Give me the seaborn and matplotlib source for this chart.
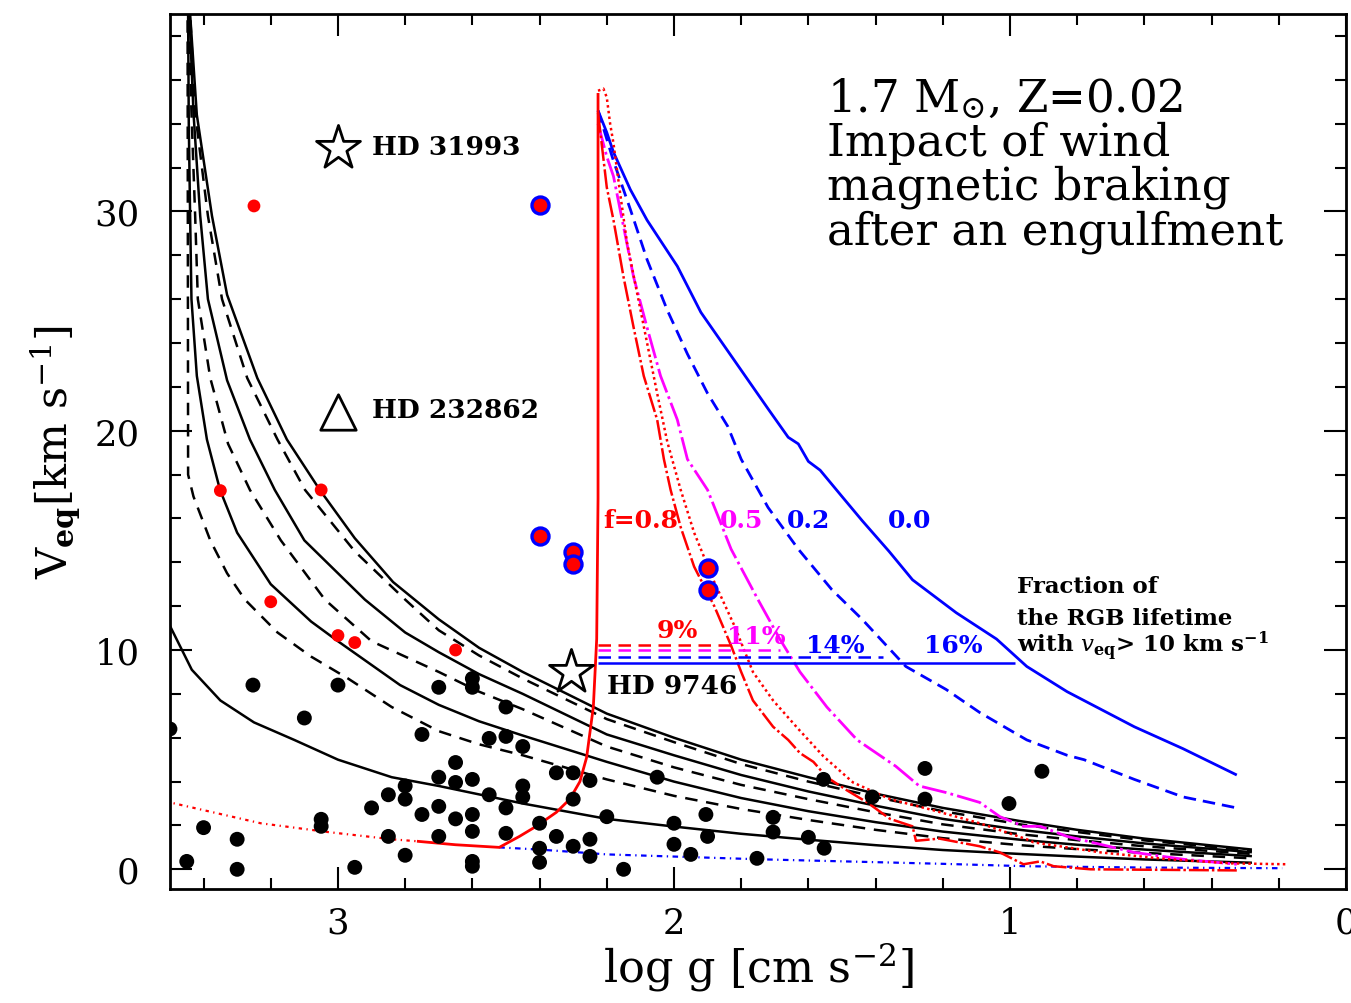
import numpy as np
import pandas as pd
import matplotlib
matplotlib.use("Agg")
import matplotlib.pyplot as plt
from matplotlib.ticker import MultipleLocator
import seaborn as sns

# ---------------- observed stars ----------------
black_logg = [3.50, 3.253, 3.10, 3.00, 2.70, 2.60, 2.60, 2.50, 2.75, 2.55, 2.50, 2.45, 2.65, 2.70,
              2.65, 2.60, 2.80, 2.85, 2.80, 2.90, 2.75, 2.70, 2.65, 2.60, 2.55, 2.45, 2.45, 2.50,
              2.35, 2.30, 2.25, 2.30, 2.20, 3.40, 3.30, 3.45, 3.30, 3.05, 3.05, 2.95, 2.85, 2.80,
              2.70, 2.60, 2.60, 2.60, 2.50, 2.40, 2.40, 2.40, 2.35, 2.30, 2.25, 2.25, 2.05, 1.555,
              1.253, 1.253, 1.003, 1.41, 1.905, 1.705, 2.00, 1.705, 1.90, 2.00, 1.60, 1.553, 1.95,
              1.753, 2.15, 0.905]
black_v = [6.4, 8.4, 6.9, 8.4, 8.3, 8.7, 8.3, 7.4, 6.15, 5.97, 6.06, 5.6, 4.87, 4.2,
           3.96, 4.1, 3.8, 3.4, 3.2, 2.8, 2.5, 2.87, 2.3, 2.5, 3.4, 3.8, 3.3, 2.8,
           4.4, 4.4, 4.05, 3.2, 2.4, 1.9, 1.37, 0.36, 0.0, 2.28, 1.96, 0.09, 1.5, 0.64,
           1.5, 1.73, 0.36, 0.14, 1.64, 2.1, 0.96, 0.32, 1.5, 1.05, 1.37, 0.59, 4.2, 4.1,
           4.6, 3.2, 3.0, 3.3, 2.5, 2.37, 2.1, 1.7, 1.5, 1.14, 1.46, 0.96, 0.68,
           0.5, 0.0, 4.47]

red_logg = [3.25, 3.35, 3.05, 3.20, 3.00, 2.95, 2.65]
red_v = [30.25, 17.27, 17.3, 12.2, 10.66, 10.34, 10.0]

ringed_logg = [2.40, 2.40, 2.30, 2.30, 1.90, 1.90]
ringed_v = [30.3, 15.2, 14.45, 13.9, 13.75, 12.75]

star_names = ["HD 31993", "HD 9746"]
star_logg = [3.00, 2.307]
star_v = [32.9, 9.0]
tri_name = "HD 232862"
tri_logg = [3.00]
tri_v = [20.85]

# ---------------- models without engulfment (black) ----------------
s6_logg = [3.45, 3.44, 3.42, 3.375, 3.33, 3.24, 3.152, 3.054, 2.95, 2.836, 2.70, 2.58, 2.45, 2.20,
           2.00, 1.80, 1.60, 1.40, 1.20, 0.97, 0.80, 0.60, 0.28]
s6_v = [45, 39.0, 34.4, 29.8, 26.2, 22.4, 19.6, 17.3, 15.1, 13.1, 11.4, 10.1, 9.0, 7.1,
        6.0, 5.0, 4.2, 3.45, 2.8, 2.2, 1.8, 1.4, 0.9]

d5_logg = [3.45, 3.44, 3.425, 3.387, 3.345, 3.27, 3.18, 3.098, 2.95, 2.80, 2.70, 2.58, 2.45, 2.20,
           2.00, 1.80, 1.60, 1.40, 1.20, 0.97, 0.80, 0.60, 0.28]
d5_v = [45, 39.0, 34.5, 29.8, 26.0, 22.4, 19.6, 17.3, 14.5, 12.3, 10.9, 9.75, 8.7, 6.85,
        5.8, 4.8, 4.0, 3.3, 2.65, 2.05, 1.7, 1.32, 0.85]

s4_logg = [3.45, 3.442, 3.43, 3.41, 3.387, 3.33, 3.262, 3.188, 3.10, 3.00, 2.92, 2.80, 2.70, 2.58,
           2.45, 2.20, 2.00, 1.80, 1.60, 1.40, 1.20, 0.97, 0.80, 0.60, 0.28]
s4_v = [45, 39.0, 34.5, 29.8, 26.0, 22.3, 19.6, 17.3, 15.0, 13.5, 12.3, 10.8, 9.9, 8.9,
        8.0, 6.15, 5.2, 4.3, 3.55, 2.9, 2.3, 1.8, 1.5, 1.18, 0.78]

d3_logg = [3.45, 3.444, 3.436, 3.425, 3.417, 3.38, 3.327, 3.262, 3.17, 3.039, 2.90, 2.70, 2.58,
           2.45, 2.20, 2.00, 1.80, 1.60, 1.40, 1.20, 0.97, 0.80, 0.60, 0.28]
d3_v = [45, 39.0, 34.5, 29.8, 26.0, 22.4, 19.4, 17.3, 15.0, 12.3, 10.4, 9.0, 8.1,
        7.3, 5.6, 4.65, 3.85, 3.2, 2.6, 2.05, 1.6, 1.33, 1.05, 0.7]

s2_logg = [3.45, 3.446, 3.444, 3.44, 3.436, 3.42, 3.39, 3.351, 3.30, 3.20, 3.08, 3.00, 2.815, 2.70,
           2.58, 2.45, 2.20, 2.00, 1.80, 1.60, 1.40, 1.20, 0.97, 0.80, 0.60, 0.28]
s2_v = [45, 39.0, 34.0, 29.8, 26.0, 22.5, 19.6, 17.3, 15.35, 13.0, 11.3, 10.4, 8.4, 7.5,
        6.75, 6.1, 4.9, 4.0, 3.25, 2.65, 2.15, 1.72, 1.35, 1.12, 0.9, 0.6]

d1_logg = [3.448, 3.446, 3.43, 3.40, 3.38, 3.33, 3.277, 3.18, 3.08, 2.97, 2.84, 2.70, 2.58, 2.45,
           2.20, 2.00, 1.80, 1.60, 1.40, 1.20, 0.97, 0.80, 0.60, 0.28]
d1_v = [45, 18.0, 17.0, 15.8, 15.0, 13.5, 12.3, 10.8, 9.7, 8.7, 7.4, 6.3, 5.7, 5.2,
        4.1, 3.35, 2.75, 2.25, 1.8, 1.42, 1.1, 0.92, 0.75, 0.5]

s0_logg = [3.55, 3.50, 3.435, 3.35, 3.25, 3.13, 3.00, 2.84, 2.70, 2.45, 2.20, 2.00, 1.80, 1.60,
           1.40, 1.20, 0.97, 0.80, 0.60, 0.28]
s0_v = [12.8, 11.1, 9.1, 7.7, 6.7, 5.9, 5.0, 4.2, 3.8, 3.0, 2.3, 1.95, 1.62, 1.35,
        1.1, 0.88, 0.7, 0.58, 0.45, 0.3]

# ---------------- engulfment tracks ----------------
pre_logg = [3.55, 3.50, 3.23, 3.03, 2.84, 2.765]
pre_v = [3.3, 3.05, 2.1, 1.7, 1.37, 1.28]

rise_logg = [2.765, 2.65, 2.52, 2.46, 2.41, 2.35, 2.31, 2.28, 2.26, 2.24, 2.23, 2.226, 2.226]
rise_v = [1.28, 1.12, 1.0, 1.5, 1.96, 2.6, 3.2, 4.0, 5.1, 7.4, 10.5, 16.9, 35.4]

nobrake_logg = [2.52, 2.40, 2.28, 2.20, 1.753, 1.20, 0.95, 0.60, 0.19]
nobrake_v = [1.0, 0.9, 0.77, 0.68, 0.46, 0.25, 0.14, 0.08, 0.05]

f00_logg = [2.226, 2.20, 2.18, 2.13, 2.08, 1.99, 1.92, 1.82, 1.72, 1.66, 1.63, 1.60, 1.565, 1.50, 1.44,
            1.36, 1.29, 1.16, 1.04, 0.95, 0.83, 0.63, 0.485, 0.325]
f00_v = [34.6, 33.6, 32.7, 31.0, 29.6, 27.5, 25.4, 23.2, 21.0, 19.7, 19.4, 18.6, 18.2, 17.0, 15.9,
         14.5, 13.2, 11.7, 10.5, 9.25, 8.1, 6.5, 5.5, 4.3]

f02_logg = [2.226, 2.18, 2.13, 2.08, 2.02, 1.96, 1.90, 1.84, 1.80, 1.72, 1.63, 1.53, 1.44, 1.31, 1.19,
            1.09, 0.95, 0.83, 0.78, 0.63, 0.485, 0.325]
f02_v = [34.6, 32.3, 30.1, 27.8, 25.5, 23.5, 21.7, 20.2, 18.7, 16.5, 14.6, 12.75, 11.4, 9.25, 8.2,
         7.15, 5.9, 5.2, 5.0, 4.1, 3.3, 2.8]

f05_logg = [2.226, 2.20, 2.18, 2.15, 2.12, 2.08, 2.04, 1.99, 1.96, 1.90, 1.83, 1.75, 1.685, 1.625, 1.545,
            1.455, 1.34, 1.27, 1.19, 1.09, 1.03, 0.96, 0.91, 0.83, 0.63, 0.485, 0.325]
f05_v = [34.0, 32.5, 31.6, 29.3, 27.0, 24.7, 22.5, 20.5, 18.7, 17.3, 14.6, 12.3, 10.5, 9.0, 7.4,
         5.9, 4.7, 3.8, 3.5, 3.05, 2.4, 1.96, 1.96, 1.5, 0.77, 0.46, 0.23]

f08_logg = [2.226, 2.20, 2.18, 2.15, 2.12, 2.09, 2.05, 2.03, 2.01, 1.98, 1.94, 1.88, 1.83, 1.80, 1.765,
            1.705, 1.66, 1.625, 1.585, 1.545, 1.485, 1.425, 1.357, 1.29, 1.28, 1.21, 1.09, 1.03, 0.96,
            0.91, 0.87, 0.76, 0.325]
f08_v = [34.5, 31.1, 29.6, 27.0, 24.7, 22.5, 20.5, 18.7, 17.3, 15.6, 13.8, 12.0, 10.2, 9.0, 7.7,
         6.5, 5.9, 5.3, 4.9, 4.2, 3.6, 3.05, 2.3, 1.96, 1.3, 1.4, 1.05, 0.77, 0.23,
         0.36, 0.14, 0.0, -0.05]

f08b_logg = [2.226, 2.21, 2.20, 2.19, 2.18, 2.16, 2.14, 2.11, 2.08, 2.05, 2.02, 1.98, 1.94, 1.88, 1.82,
             1.765, 1.705, 1.63, 1.555, 1.467, 1.357, 1.23, 1.09, 0.95, 0.93, 0.73, 0.53, 0.34, 0.175]
f08b_v = [35.5, 35.6, 35.2, 34.0, 33.1, 30.8, 28.6, 26.3, 24.0, 21.7, 19.5, 17.3, 15.35, 13.1, 11.1,
          9.0, 7.7, 6.4, 5.15, 3.96, 3.2, 2.7, 2.1, 1.37, 1.23, 0.77, 0.46, 0.27, 0.23]

# fraction of RGB lifetime with v_eq > 10 km/s
frac_labels = ["9%", "11%", "14%", "16%"]
frac_level = [10.25, 10.0, 9.7, 9.4]
frac_end = [1.824, 1.685, 1.378, 0.985]
f_labels = ["f=0.8", "0.5", "0.2", "0.0"]

RED, MAG, BLUE = "#ff0000", "#ff00ff", "#0000ff"

sns.set_style("ticks")
plt.rcParams["font.family"] = ["DejaVu Serif"]
plt.rcParams["mathtext.fontset"] = "dejavuserif"
for key in ["text.color", "axes.labelcolor", "xtick.color", "ytick.color", "axes.edgecolor"]:
    plt.rcParams[key] = "black"

fig = plt.figure(figsize=(13.51, 10.04), dpi=100)
ax = fig.add_axes([0.1258, 0.1135, 0.8705, 0.8715])


def curve(logg, v, color, lw=1.8, dashes=None, zorder=2):
    df = pd.DataFrame({"logg": logg, "v": v})
    sns.lineplot(data=df, x="logg", y="v", sort=False, estimator=None, color=color,
                 lw=lw, ax=ax, zorder=zorder, legend=False)
    ln = ax.lines[-1]
    if dashes is not None:
        ln.set_dashes(dashes)
    ln.set_solid_capstyle("butt")
    ln.set_solid_joinstyle("round")
    return ln


# black model grid
for lg, vv, ds in [(s0_logg, s0_v, None), (d1_logg, d1_v, (5, 3.5)), (s2_logg, s2_v, None),
                   (d3_logg, d3_v, (5, 3.5)), (s4_logg, s4_v, None), (d5_logg, d5_v, (5, 3.5)),
                   (s6_logg, s6_v, None)]:
    curve(lg, vv, "black", lw=1.8, dashes=ds)

# engulfment tracks
curve(pre_logg, pre_v, RED, lw=1.6, dashes=(1.5, 2.0, 0.6, 2.0))
curve(nobrake_logg, nobrake_v, BLUE, lw=1.6, dashes=(2.5, 2.0, 0.6, 2.0))
curve(f00_logg, f00_v, BLUE, lw=2.0, zorder=3)
curve(f02_logg, f02_v, BLUE, lw=2.0, dashes=(4.5, 2.5), zorder=3)
curve(f05_logg, f05_v, MAG, lw=2.0, dashes=(9, 1.5, 1, 1.5), zorder=3)
curve(f08b_logg, f08b_v, RED, lw=1.8, dashes=(1, 1.3), zorder=3)
curve(f08_logg, f08_v, RED, lw=1.8, dashes=(8, 1.2, 1, 1.2), zorder=3)
curve(rise_logg, rise_v, RED, lw=2.0, zorder=4)

# horizontal fraction markers
hcols = [RED, MAG, BLUE, BLUE]
hdash = [(5, 3), (5, 3), (5, 3), None]
for lvl, end, c, ds in zip(frac_level, frac_end, hcols, hdash):
    curve([rise_logg[-1], end], [lvl, lvl], c, lw=1.8, dashes=ds, zorder=3)

# observations
sns.scatterplot(x=black_logg, y=black_v, color="black", s=115, edgecolor="none", ax=ax, zorder=5, legend=False)
sns.scatterplot(x=red_logg, y=red_v, color=RED, s=85, edgecolor="none", ax=ax, zorder=5, legend=False)
sns.scatterplot(x=ringed_logg, y=ringed_v, color=RED, s=150, edgecolor=BLUE, linewidth=2.4, ax=ax, zorder=6, legend=False)
sns.scatterplot(x=star_logg, y=star_v, marker="*", s=1100, color="white", edgecolor="black", linewidth=2.0, ax=ax, zorder=6, legend=False)
sns.scatterplot(x=tri_logg, y=tri_v, marker="^", s=650, color="white", edgecolor="black", linewidth=2.0, ax=ax, zorder=6, legend=False)

lab_kw = dict(fontsize=19, fontweight="bold", va="center", ha="left")
ax.text(2.899, 32.94, star_names[0], **lab_kw)
ax.text(2.899, 20.96, tri_name, **lab_kw)
ax.text(2.20, 8.38, star_names[1], **lab_kw)

# curve labels
for txt, x, c in zip(f_labels, [2.098, 1.80, 1.60, 1.30], [RED, MAG, BLUE, BLUE]):
    ax.text(x, 15.95, txt, color=c, fontsize=18, fontweight="bold", ha="center", va="center")
for txt, x, y, c in zip(frac_labels, [1.99, 1.755, 1.52, 1.17], [10.93, 10.66, 10.25, 10.25],
                        [RED, MAG, BLUE, BLUE]):
    ax.text(x, y, txt, color=c, fontsize=18, fontweight="bold", ha="center", va="center")

ax.text(0.979, 12.94, "Fraction of", fontsize=16.5, fontweight="bold", va="center", ha="left")
ax.text(0.979, 11.48, "the RGB lifetime", fontsize=16.5, fontweight="bold", va="center", ha="left")
ax.text(0.979, 10.2, r"with $\mathit{v}_{\mathbf{eq}}$> 10 km s$^{\mathbf{-1}}$", fontsize=16.5,
        fontweight="bold", va="center", ha="left")

title_lines = [r"1.7 M$_{\odot}$, Z=0.02", "Impact of wind", "magnetic braking", "after an engulfment"]
for i, t in enumerate(title_lines):
    ax.text(1.545, 35.17 - 2.02 * i, t, fontsize=32.5, va="center", ha="left")

# axes
ax.set_xlim(3.5, 0.0)
ax.set_ylim(-0.9, 39.0)
ax.xaxis.set_major_locator(MultipleLocator(1))
ax.xaxis.set_minor_locator(MultipleLocator(0.2))
ax.yaxis.set_major_locator(MultipleLocator(10))
ax.yaxis.set_minor_locator(MultipleLocator(2))
ax.tick_params(which="both", direction="in", top=True, right=True, width=1.5, colors="black")
ax.tick_params(which="major", length=16, labelsize=25.5, pad=12)
ax.tick_params(which="minor", length=8)
ax.tick_params(axis="y", which="major", pad=22)
for sp in ax.spines.values():
    sp.set_linewidth(2.0)
    sp.set_color("black")
ax.set_xlabel(r"log g [cm s$^{-2}$]", fontsize=32, labelpad=0)
ax.set_ylabel(r"V$_{\mathbf{eq}}$[km s$^{-1}$]", fontsize=31, labelpad=8)

fig.savefig("out.png", dpi=100, facecolor="white")
